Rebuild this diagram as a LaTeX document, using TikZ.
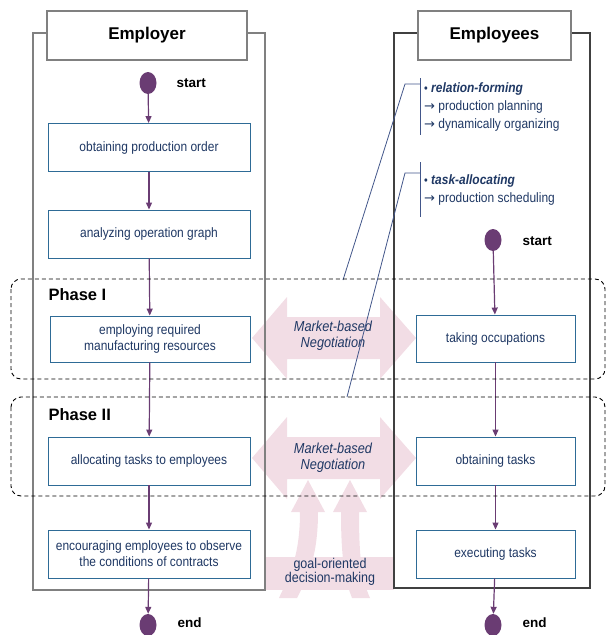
\documentclass[tikz,border=0pt]{standalone}
\usepackage{fontspec}
\setmainfont{Liberation Sans}
\newfontfamily\narrowfont{Liberation Sans}[FakeStretch=0.88]
\newfontfamily\arrowfont{DejaVu Sans}
\usepackage{tikz}
\usetikzlibrary{arrows.meta,shapes.geometric,positioning}
\definecolor{mfnavy}{RGB}{31,56,100}
\definecolor{mfblue}{RGB}{46,107,150}
\definecolor{mfpurple}{RGB}{106,60,115}
\definecolor{mfpink}{RGB}{242,221,229}
\definecolor{mfgray}{RGB}{128,128,128}
\definecolor{mfdark}{RGB}{64,64,64}
\definecolor{mfline}{RGB}{66,86,138}
\newcommand{\notearrow}{{\arrowfont\fontsize{13}{18}\selectfont →}}
\newcommand{\notebullet}{{\fontsize{12}{18}\selectfont •}}
\tikzstyle{flow} = [draw=mfpurple, line width=1.2pt, -{Triangle[length=7pt,width=6pt]}]
\tikzstyle{taskbox} = [rectangle, draw=mfblue, line width=0.9pt, fill=white, text=mfnavy, align=center, minimum width=202pt, minimum height=48pt, inner sep=2pt, font=\narrowfont\fontsize{13.6}{16}\selectfont]
\tikzstyle{lanetitle} = [rectangle, draw=mfgray, line width=2pt, fill=white, minimum height=49pt, font=\bfseries\fontsize{17}{20}\selectfont]
\tikzstyle{terminal} = [ellipse, fill=mfpurple, minimum width=17pt, minimum height=22pt, inner sep=0pt]
\tikzstyle{termlabel} = [anchor=west, font=\bfseries\fontsize{13.5}{16}\selectfont]
\tikzstyle{phase} = [draw=black, dash pattern=on 4pt off 3pt, rounded corners=10pt, line width=0.9pt]
\tikzstyle{phaselabel} = [anchor=west, font=\bfseries\fontsize{16.5}{19}\selectfont]
\tikzstyle{negtext} = [text=mfnavy, align=center, font=\narrowfont\itshape\fontsize{14.5}{16}\selectfont]
\tikzstyle{note} = [draw=mfline, line width=0.8pt]
\tikzstyle{notetext} = [anchor=north west, align=left, text=mfnavy, inner xsep=4pt, inner ysep=0pt, font=\narrowfont\fontsize{13.6}{18}\selectfont]

\begin{document}
\begin{tikzpicture}[x=1pt, y=-1pt]
    \useasboundingbox (0,0) rectangle (607,635);

    % Negotiation arrows between the lanes
    \foreach \yc in {338,458} {
        \fill[mfpink] (252,\yc) -- (287,\yc-41) -- (287,\yc-21) -- (380,\yc-21) -- (380,\yc-41)
            -- (416,\yc) -- (380,\yc+41) -- (380,\yc+21) -- (287,\yc+21) -- (287,\yc+41) -- cycle;
    }

    % Decision-making base with two arrows going up
    \fill[mfpink] (265,557) rectangle (394,590);
    \fill[mfpink] (279,598) .. controls (287,580) and (300,560) .. (300,512) -- (291,512) -- (308,480)
        -- (325,512) -- (318,512) .. controls (318,560) and (306,580) .. (297,598) -- cycle;
    \fill[mfpink] (370,598) .. controls (362,580) and (359,560) .. (359,512) -- (367,512) -- (350,480)
        -- (333,512) -- (341,512) .. controls (341,560) and (345,580) .. (352,598) -- cycle;

    % Swim lanes
    \draw[mfgray, line width=1.2pt] (33,33) rectangle (265,590);
    \draw[mfdark, line width=1.5pt] (394,33) rectangle (590,588);
    \node[lanetitle, minimum width=200pt] (employer) at (147,35.5) {Employer};
    \node[lanetitle, minimum width=153pt] (employees) at (494.5,35.5) {Employees};

    % Employer side
    \node[terminal] (start1) at (148,83) {};
    \node[termlabel] (start1lbl) at (173,83) {start};
    \node[taskbox] (order) at (149,147.5) {obtaining production order};
    \node[taskbox] (graph) at (149,234) {analyzing operation graph};
    \node[taskbox, minimum width=200pt, minimum height=46pt] (employ) at (150,339) {employing required\\manufacturing resources};
    \node[taskbox] (allocate) at (149,461) {allocating tasks to employees};
    \node[taskbox] (encourage) at (149,554) {encouraging employees to observe\\the conditions of contracts};
    \node[terminal] (end1) at (148,625) {};
    \node[termlabel] (end1lbl) at (174,623) {end};

    % Employees side
    \node[terminal] (start2) at (493,240) {};
    \node[termlabel] (start2lbl) at (519,241) {start};
    \node[taskbox, minimum width=159pt, minimum height=47pt] (occupy) at (495.5,338.5) {taking occupations};
    \node[taskbox, minimum width=159pt] (obtain) at (495.5,461) {obtaining tasks};
    \node[taskbox, minimum width=159pt] (execute) at (495.5,554) {executing tasks};
    \node[terminal] (end2) at (493,625) {};
    \node[termlabel] (end2lbl) at (519,623) {end};

    % Connections
    \draw[flow] (start1) -- (order);
    \draw[flow] (order) -- (graph);
    \draw[flow] (graph) -- (employ);
    \draw[flow] (employ) -- (allocate);
    \draw[flow] (allocate) -- (encourage);
    \draw[flow] (encourage) -- (end1);
    \draw[flow] (start2) -- (occupy);
    \draw[flow] (occupy) -- (obtain);
    \draw[flow] (obtain) -- (execute);
    \draw[flow] (execute) -- (end2);

    % Labels on the pink arrows
    \node[negtext] (neg1) at (333,336) {Market-based\\Negotiation};
    \node[negtext] (neg2) at (333,458) {Market-based\\Negotiation};
    \node[negtext, font=\narrowfont\fontsize{14.2}{14}\selectfont] (goal) at (330,572) {goal-oriented\\decision-making};

    % Notes on the two phases
    \node[notetext, minimum height=57pt] (relform) at (420,78)
        {\notebullet\ \textbf{\textit{relation-forming}}\\\notearrow{} production planning\\\notearrow{} dynamically organizing};
    \node[notetext, minimum height=55pt] (taskalloc) at (420,162)
        {\notebullet\ \textbf{\textit{task-allocating}}\\\notearrow{} production scheduling};
    \draw[note] (relform.north west) -- (relform.south west);
    \draw[note] (taskalloc.north west) -- (taskalloc.south west);
    \coordinate (ph1top) at (343,280);
    \coordinate (ph2top) at (347,397);
    \draw[note] ([yshift=-6pt]relform.north west) -- ++(-15,0) -- (ph1top);
    \draw[note] ([yshift=-11pt]taskalloc.north west) -- ++(-15,0) -- (ph2top);

    % Phases
    \draw[phase] (11,279) rectangle (605,379);
    \draw[phase] (11,397) rectangle (605,496);
    \node[phaselabel] (ph1) at (45,295) {Phase I};
    \node[phaselabel] (ph2) at (45,415) {Phase II};
\end{tikzpicture}
\end{document}
